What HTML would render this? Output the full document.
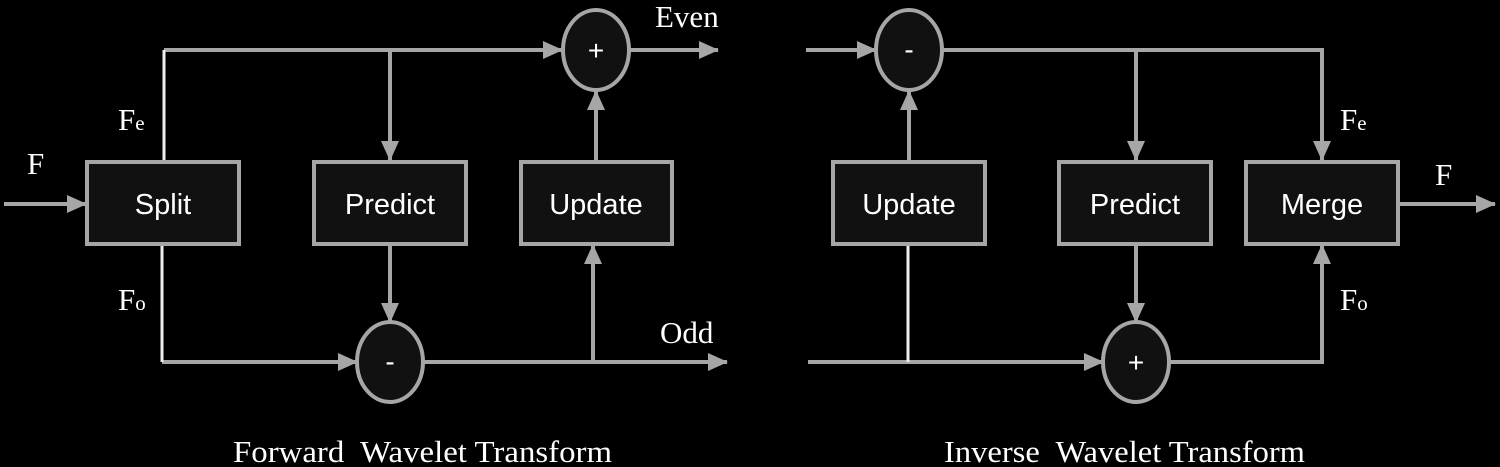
<!DOCTYPE html>
<html><head><style>html,body{margin:0;padding:0;background:#000;width:1500px;height:467px;overflow:hidden}</style></head>
<body>
<svg width="1500" height="467" viewBox="0 0 1500 467" xmlns="http://www.w3.org/2000/svg">
<defs>
<marker id="a" markerWidth="20" markerHeight="18" refX="19" refY="9" orient="auto" markerUnits="userSpaceOnUse">
<path d="M0,0 L20,9 L0,18 Z" fill="#a6a6a6"/></marker>
</defs>
<g stroke="#a6a6a6" stroke-width="4" fill="none">
<line x1="4" y1="204" x2="86" y2="204" marker-end="url(#a)"/>
<line x1="164" y1="50" x2="562" y2="50" marker-end="url(#a)"/>
<line x1="390" y1="50" x2="390" y2="160" marker-end="url(#a)"/>
<line x1="630" y1="50" x2="718" y2="50" marker-end="url(#a)"/>
<line x1="596" y1="161" x2="596" y2="91" marker-end="url(#a)"/>
<line x1="390" y1="245" x2="390" y2="322" marker-end="url(#a)"/>
<line x1="162" y1="362" x2="357" y2="362" marker-end="url(#a)"/>
<line x1="424" y1="362" x2="727" y2="362" marker-end="url(#a)"/>
<line x1="593" y1="362" x2="593" y2="245" marker-end="url(#a)"/>
<line x1="806" y1="50" x2="876" y2="50" marker-end="url(#a)"/>
<polyline points="942,50 1322,50 1322,160" marker-end="url(#a)"/>
<line x1="1136" y1="50" x2="1136" y2="160" marker-end="url(#a)"/>
<line x1="909" y1="161" x2="909" y2="91" marker-end="url(#a)"/>
<line x1="1136" y1="245" x2="1136" y2="322" marker-end="url(#a)"/>
<line x1="808" y1="362" x2="1103" y2="362" marker-end="url(#a)"/>
<polyline points="1170,362 1322,362 1322,245" marker-end="url(#a)"/>
<line x1="1398" y1="204" x2="1495" y2="204" marker-end="url(#a)"/>
</g>
<g stroke="#eeeeee" stroke-width="3">
<line x1="164" y1="50" x2="164" y2="161"/>
<line x1="162" y1="245" x2="162" y2="362"/>
<line x1="908" y1="245" x2="908" y2="362"/>
</g>
<g fill="#111" stroke="#a6a6a6" stroke-width="4">
<rect x="87" y="162" width="152" height="82"/>
<rect x="314" y="162" width="152" height="82"/>
<rect x="521" y="162" width="151" height="82"/>
<rect x="833" y="162" width="152" height="82"/>
<rect x="1059" y="162" width="152" height="82"/>
<rect x="1246" y="162" width="152" height="82"/>
<ellipse cx="596" cy="50" rx="33" ry="40"/>
<ellipse cx="390" cy="362" rx="33" ry="40"/>
<ellipse cx="909" cy="50" rx="33" ry="40"/>
<ellipse cx="1136" cy="362" rx="33" ry="40"/>
</g>
<g fill="#fff" font-family="Liberation Sans, sans-serif" font-size="29" text-anchor="middle">
<text x="163" y="214">Split</text>
<text x="390" y="214">Predict</text>
<text x="596" y="214">Update</text>
<text x="909" y="214">Update</text>
<text x="1135" y="214">Predict</text>
<text x="1322" y="214">Merge</text>
<text x="596" y="60" font-size="28">+</text>
<text x="390" y="371" font-size="28">-</text>
<text x="909" y="59" font-size="28">-</text>
<text x="1136" y="372" font-size="28">+</text>
</g>
<g fill="#fff" font-family="Liberation Serif, serif" font-size="31">
<text x="27" y="174">F</text>
<text x="118" y="130">F<tspan font-size="21">e</tspan></text>
<text x="118" y="310">F<tspan font-size="21">o</tspan></text>
<text x="655" y="27">Even</text>
<text x="660" y="343">Odd</text>
<text x="1435" y="185">F</text>
<text x="1340" y="130">F<tspan font-size="21">e</tspan></text>
<text x="1340" y="310">F<tspan font-size="21">o</tspan></text>
<text x="233" y="462" textLength="379" lengthAdjust="spacingAndGlyphs" xml:space="preserve">Forward  Wavelet Transform</text>
<text x="944" y="462" textLength="361" lengthAdjust="spacingAndGlyphs" xml:space="preserve">Inverse  Wavelet Transform</text>
</g>
</svg>
</body></html>
